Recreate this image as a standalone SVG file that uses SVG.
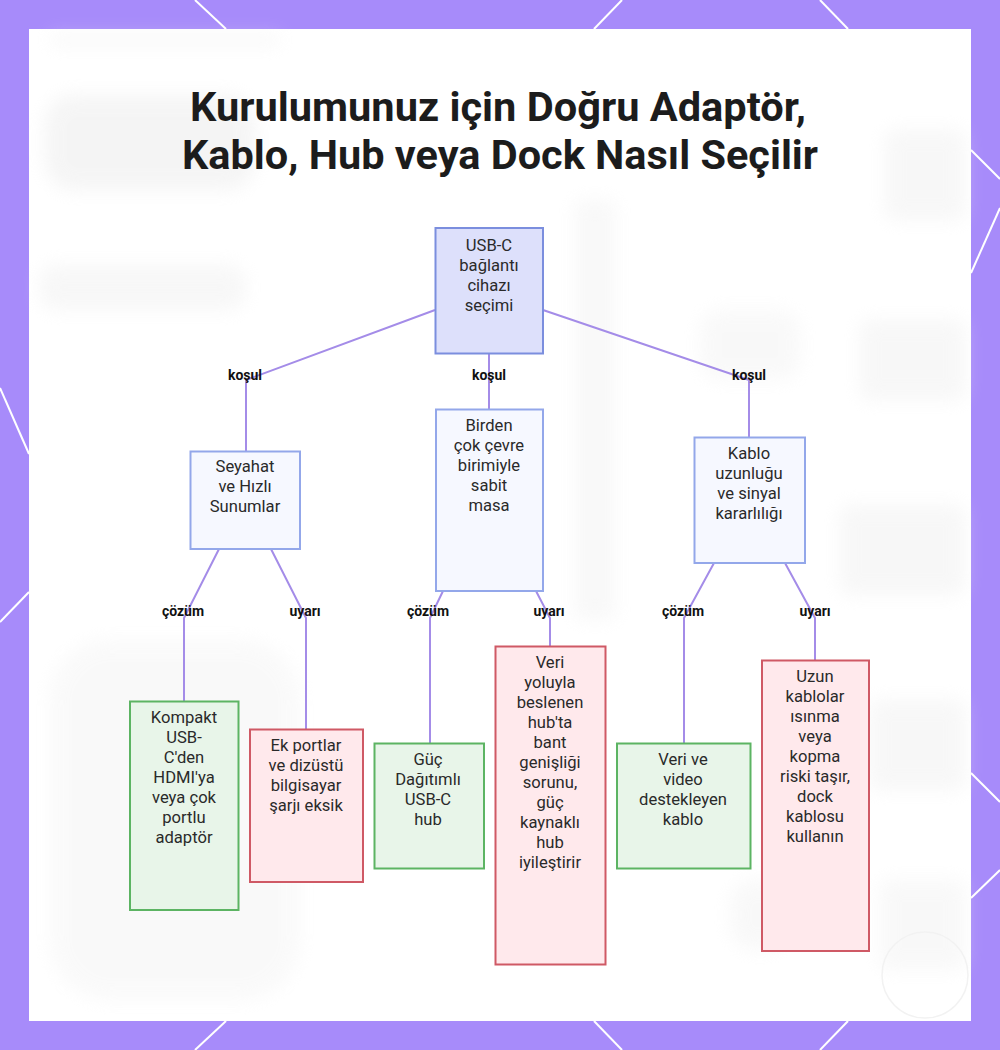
<svg xmlns="http://www.w3.org/2000/svg" width="1000" height="1050" viewBox="0 0 1000 1050">
<defs>
<style>
.title{font-family:Roboto,"Liberation Sans",sans-serif;font-weight:700;font-size:40px;fill:#1c1c1c;text-anchor:middle}
.nt{font-family:Roboto,"Liberation Sans",sans-serif;font-size:16.6px;fill:#2a2a2a;text-anchor:middle}
.el{font-family:Roboto,"Liberation Sans",sans-serif;font-weight:700;font-size:14px;fill:#111;text-anchor:middle}
.edge{fill:none;stroke:#a48ce8;stroke-width:2}
.root{fill:#dde0fb;stroke:#7b8ede;stroke-width:2}
.dec{fill:#f6f8ff;stroke:#93a7ea;stroke-width:2}
.ok{fill:#e8f5e9;stroke:#5cb463;stroke-width:2}
.warn{fill:#ffe9ec;stroke:#cf5965;stroke-width:2}
.bl{stroke:#ffffff;stroke-width:2}
</style>
<filter id="blur" x="-20%" y="-20%" width="140%" height="140%"><feGaussianBlur stdDeviation="9"/></filter>
</defs>
<rect x="0" y="0" width="1000" height="1050" fill="#a78bfa"/>
<g class="bl">
<line x1="195" y1="0" x2="226" y2="29"/><line x1="622" y1="0" x2="594" y2="29"/><line x1="820" y1="0" x2="848" y2="29"/>
<line x1="226" y1="1021" x2="195" y2="1050"/><line x1="594" y1="1021" x2="622" y2="1050"/><line x1="848" y1="1021" x2="820" y2="1050"/>
<line x1="0" y1="388" x2="29" y2="454"/><line x1="29" y1="592" x2="0" y2="622"/>
<line x1="971" y1="150" x2="1000" y2="179"/><line x1="1000" y1="208" x2="971" y2="273"/>
<line x1="971" y1="773" x2="1000" y2="802"/><line x1="1000" y1="870" x2="971" y2="898"/>
</g>
<rect x="29" y="29" width="942" height="992" fill="#ffffff"/>
<g filter="url(#blur)" opacity="0.4">
<rect x="45" y="95" width="210" height="95" rx="30" fill="#e6e6e6"/>
<rect x="40" y="265" width="205" height="45" rx="15" fill="#ececec"/>
<rect x="50" y="35" width="230" height="10" fill="#ececec"/>
<rect x="575" y="200" width="40" height="420" fill="#efefef"/>
<rect x="885" y="130" width="80" height="90" rx="10" fill="#ececec"/>
<rect x="860" y="320" width="105" height="80" rx="10" fill="#ececec"/>
<rect x="840" y="505" width="125" height="90" rx="10" fill="#ececec"/>
<rect x="870" y="700" width="95" height="90" rx="10" fill="#ececec"/>
<rect x="880" y="880" width="85" height="90" rx="10" fill="#efefef"/>
<rect x="700" y="310" width="100" height="70" rx="20" fill="#f0f0f0"/>
<rect x="50" y="640" width="250" height="360" rx="60" fill="#f2f2f2"/>
<rect x="730" y="880" width="60" height="70" rx="25" fill="#efefef"/>
</g>
<circle cx="925" cy="975" r="43" fill="none" stroke="#f2f2f2" stroke-width="1.5"/>
<text class="title" x="498" y="121" textLength="616" lengthAdjust="spacingAndGlyphs">Kurulumunuz için Doğru Adaptör,</text>
<text class="title" x="500" y="169" textLength="636" lengthAdjust="spacingAndGlyphs">Kablo, Hub veya Dock Nasıl Seçilir</text>
<g id="connectors">
<polyline class="edge" points="435,310 246,380 246,452"/>
<polyline class="edge" points="489,354 489,409"/>
<polyline class="edge" points="543,310 749,380 749,437"/>
<polyline class="edge" points="219,549 184,618 184,701"/>
<polyline class="edge" points="271,549 306,618 306,729"/>
<polyline class="edge" points="443,591 430,618 430,743"/>
<polyline class="edge" points="536,591 550,618 550,646"/>
<polyline class="edge" points="714,563 684,618 684,743"/>
<polyline class="edge" points="785,563 815,618 815,660"/>
<text class="el" x="245" y="380">koşul</text>
<text class="el" x="489" y="380">koşul</text>
<text class="el" x="749" y="380">koşul</text>
<text class="el" x="183" y="616">çözüm</text>
<text class="el" x="305" y="616">uyarı</text>
<text class="el" x="428" y="616">çözüm</text>
<text class="el" x="549" y="616">uyarı</text>
<text class="el" x="683" y="616">çözüm</text>
<text class="el" x="815" y="616">uyarı</text>
</g>
<g id="root">
<rect class="root" x="435.5" y="228" width="107.5" height="125.5"/>
<text class="nt" x="489" y="251">USB-C</text><text class="nt" x="489" y="271">bağlantı</text><text class="nt" x="489" y="291">cihazı</text><text class="nt" x="489" y="311">seçimi</text>
</g>
<g id="seyahat">
<rect class="dec" x="190.5" y="451.5" width="109.5" height="97.5"/>
<text class="nt" x="245" y="472">Seyahat</text><text class="nt" x="245" y="492">ve Hızlı</text><text class="nt" x="245" y="512">Sunumlar</text>
</g>
<g id="birden">
<rect class="dec" x="436" y="409.5" width="107" height="181.5"/>
<text class="nt" x="489" y="431">Birden</text><text class="nt" x="489" y="451">çok çevre</text><text class="nt" x="489" y="471">birimiyle</text><text class="nt" x="489" y="491">sabit</text><text class="nt" x="489" y="511">masa</text>
</g>
<g id="kablo">
<rect class="dec" x="694.5" y="437.5" width="110.5" height="125.5"/>
<text class="nt" x="749" y="459">Kablo</text><text class="nt" x="749" y="479">uzunluğu</text><text class="nt" x="749" y="499">ve sinyal</text><text class="nt" x="749" y="519">kararlılığı</text>
</g>
<g id="kompakt">
<rect class="ok" x="130" y="701.5" width="108.5" height="208.5"/>
<text class="nt" x="184" y="723">Kompakt</text><text class="nt" x="184" y="743">USB-</text><text class="nt" x="184" y="763">C'den</text><text class="nt" x="184" y="783">HDMI'ya</text><text class="nt" x="184" y="803">veya çok</text><text class="nt" x="184" y="823">portlu</text><text class="nt" x="184" y="843">adaptör</text>
</g>
<g id="ekportlar">
<rect class="warn" x="250" y="729.5" width="113" height="152.5"/>
<text class="nt" x="306" y="751">Ek portlar</text><text class="nt" x="306" y="771">ve dizüstü</text><text class="nt" x="306" y="791">bilgisayar</text><text class="nt" x="306" y="811">şarjı eksik</text>
</g>
<g id="guc">
<rect class="ok" x="374.5" y="743.5" width="109.5" height="125"/>
<text class="nt" x="428" y="765">Güç</text><text class="nt" x="428" y="785">Dağıtımlı</text><text class="nt" x="428" y="805">USB-C</text><text class="nt" x="428" y="825">hub</text>
</g>
<g id="veriyoluyla">
<rect class="warn" x="495.5" y="646.5" width="110" height="318"/>
<text class="nt" x="550" y="668">Veri</text><text class="nt" x="550" y="688">yoluyla</text><text class="nt" x="550" y="708">beslenen</text><text class="nt" x="550" y="728">hub'ta</text><text class="nt" x="550" y="748">bant</text><text class="nt" x="550" y="768">genişliği</text><text class="nt" x="550" y="788">sorunu,</text><text class="nt" x="550" y="808">güç</text><text class="nt" x="550" y="828">kaynaklı</text><text class="nt" x="550" y="848">hub</text><text class="nt" x="550" y="868">iyileştirir</text>
</g>
<g id="veriveideo">
<rect class="ok" x="617" y="743.5" width="133.5" height="125"/>
<text class="nt" x="683" y="765">Veri ve</text><text class="nt" x="683" y="785">video</text><text class="nt" x="683" y="805">destekleyen</text><text class="nt" x="683" y="825">kablo</text>
</g>
<g id="uzun">
<rect class="warn" x="762" y="660.5" width="107" height="290.5"/>
<text class="nt" x="815" y="682">Uzun</text><text class="nt" x="815" y="702">kablolar</text><text class="nt" x="815" y="722">ısınma</text><text class="nt" x="815" y="742">veya</text><text class="nt" x="815" y="762">kopma</text><text class="nt" x="815" y="782">riski taşır,</text><text class="nt" x="815" y="802">dock</text><text class="nt" x="815" y="822">kablosu</text><text class="nt" x="815" y="842">kullanın</text>
</g>
</svg>
